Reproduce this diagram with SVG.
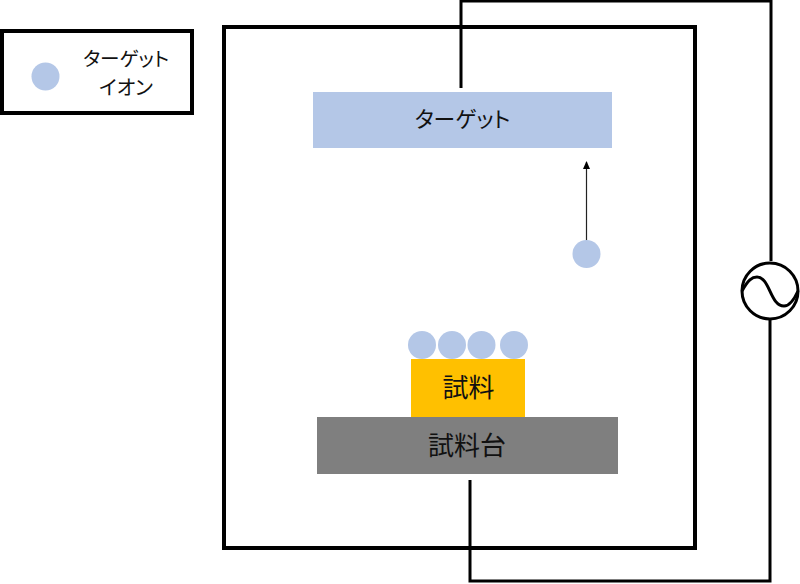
<svg xmlns="http://www.w3.org/2000/svg" width="800" height="584" viewBox="0 0 800 584">
<style>
.f{fill:#b4c7e7}
.w{fill:none;stroke:#000;stroke-width:3}
.b{fill:none;stroke:#000;stroke-width:4}
text{font-family:"Noto Sans CJK JP","Noto Sans",sans-serif;fill:#111;text-anchor:middle;font-feature-settings:"palt"}
</style>
<defs><marker id="a" markerWidth="8" markerHeight="8" refX="7" refY="4" orient="auto" markerUnits="userSpaceOnUse"><path d="M0 0.5L8 4L0 7.5Z" fill="#000"/></marker></defs>
<rect width="800" height="584" fill="#fff"/>
<g id="connectors">
<path class="w" d="M461 88V1H771V261"/>
<path class="w" d="M770 320V581H470V480"/>
<path d="M586.5 241V162" fill="none" stroke="#222" stroke-width="1.2" marker-end="url(#a)"/>
</g>
<g id="legend">
<rect class="b" x="2" y="31" width="190" height="82"/>
<circle class="f" cx="45.500" cy="76.500" r="14"/>
<text x="126" y="66" font-size="19.600">ターゲット</text>
<text x="126" y="95" font-size="20">イオン</text>
</g>
<g id="chamber"><rect class="b" x="224" y="27" width="471" height="521"/></g>
<g id="target"><rect class="f" x="313" y="92" width="299" height="56"/><text x="462.500" y="127" font-size="21.800">ターゲット</text></g>
<g id="ion"><circle class="f" cx="586.500" cy="254" r="14"/></g>
<g id="ion-1"><circle class="f" cx="422" cy="345" r="14"/></g>
<g id="ion-2"><circle class="f" cx="452" cy="345" r="14"/></g>
<g id="ion-3"><circle class="f" cx="481.500" cy="345" r="14"/></g>
<g id="ion-4"><circle class="f" cx="514" cy="345" r="14"/></g>
<g id="sample"><rect x="411" y="359" width="114" height="58" fill="#ffc000"/><text x="468.500" y="397" font-size="26">試料</text></g>
<g id="stage"><rect x="317" y="417" width="301" height="57" fill="#7f7f7f"/><text x="467" y="455" font-size="26">試料台</text></g>
<g id="source"><circle cx="770" cy="291" r="28" fill="#fff" stroke="#000" stroke-width="3"/><path class="w" d="M742 291C748 280 752 277 757 277C770 277 770 306 784 306C789 306 793 302 798 291"/></g>
</svg>
